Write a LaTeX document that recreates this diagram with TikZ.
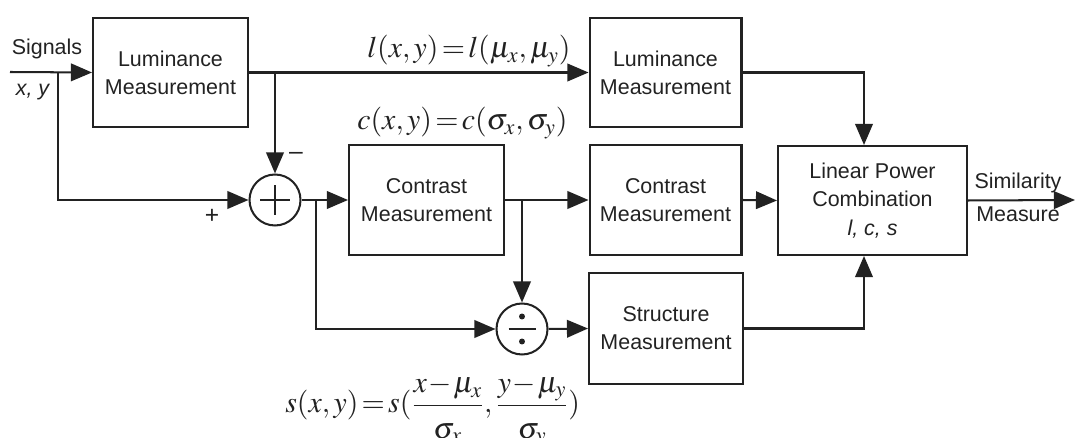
\documentclass[tikz,border=0pt]{standalone}
\usepackage{mathptmx}
\usepackage{fontspec}
\setmainfont{Liberation Sans}
\usetikzlibrary{arrows.meta}
\definecolor{ink}{HTML}{222222}
\newcommand{\tighteq}{\thickmuskip=2mu plus 1mu\medmuskip=1mu}
% display-size fraction with a deeper-set denominator
\newcommand{\bigfrac}[2]{{\displaystyle\frac{#1}{\rule{0pt}{0.95em}#2}}}
\tikzset{
  wire/.style={line width=1.15pt, draw=ink},
  flow/.style={wire, -{Triangle[length=12pt,width=10pt]}},
  blk/.style={draw=ink, line width=1.15pt, align=center, inner sep=0pt,
    text=ink, font=\fontsize{12.2}{16}\selectfont},
  junc/.style={circle, draw=ink, line width=1.15pt, minimum size=1.02cm, inner sep=0pt},
  lbl/.style={text=ink, font=\fontsize{12.2}{16}\selectfont, inner sep=0pt},
  eq/.style={text=ink, font=\fontsize{17}{20}\selectfont, inner sep=0pt, anchor=base west}
}
\begin{document}
\begin{tikzpicture}[x=0.02cm, y=-0.02cm]
  \useasboundingbox (0,0) rectangle (1075,438);

  % blocks
  \node[blk, minimum width=3.1cm, minimum height=2.18cm] (lum1) at (170.5,72.5) {Luminance\\Measurement};
  \node[blk, minimum width=3.04cm, minimum height=2.18cm] (lum2) at (665.5,72.5) {Luminance\\Measurement};
  \node[blk, minimum width=3.1cm, minimum height=2.2cm] (con1) at (426.5,200) {Contrast\\Measurement};
  \node[blk, minimum width=3.04cm, minimum height=2.2cm] (con2) at (665.5,200) {Contrast\\Measurement};
  \node[blk, minimum width=3.08cm, minimum height=2.22cm] (str) at (666,328.5) {Structure\\Measurement};
  \node[blk, minimum width=3.78cm, minimum height=2.18cm] (lpc) at (872.5,200.5)
    {Linear Power\\Combination\\\textit{l, c, s}};

  % summing and dividing junctions
  \node[junc] (sum) at (275,200) {};
  \draw[wire] ([xshift=-0.3cm]sum.center) -- ([xshift=0.3cm]sum.center)
              ([yshift=-0.3cm]sum.center) -- ([yshift=0.3cm]sum.center);
  \node[junc] (div) at (522,329) {};
  \draw[wire] ([xshift=-0.27cm]div.center) -- ([xshift=0.27cm]div.center);
  \fill[ink] ([yshift=0.25cm]div.center) circle (1.7pt)
             ([yshift=-0.25cm]div.center) circle (1.7pt);

  % free ends
  \coordinate (src) at (10,72);
  \coordinate (out) at (1075,200);

  % connectors
  \draw[flow] (src) -- (lum1.west);
  \draw[flow] (src -| 58,0) |- (sum.west);
  \draw[flow] (lum1.east) -- (lum2.west);
  \draw[flow] (lum1.east -| sum) -- (sum.north);
  \draw[flow] (sum.east) -- (con1.west);
  \draw[flow] (sum.east -| 316,0) |- (div.west);
  \draw[flow] (con1.east) -- (con2.west);
  \draw[flow] (con1.east -| div) -- (div.north);
  \draw[flow] (div.east) -- (str.west);
  \draw[flow] (lum2.east) -| ([xshift=-0.17cm]lpc.north);
  \draw[flow] (con2.east) -- (lpc.west);
  \draw[flow] (str.east) -| ([xshift=-0.17cm]lpc.south);
  \draw[flow] (lpc.east) -- (out);

  % labels
  \node[lbl, anchor=base] (sig) at (47,55) {Signals};
  \node[lbl] (xy) at (33,92) {\textit{x, y}};
  \node[lbl, font=\fontsize{14}{16}\selectfont] (minus) at (296,156) {--};
  \node[lbl, font=\fontsize{14}{16}\selectfont] (plus) at (212,216) {+};
  \node[lbl, anchor=base] (sim) at (1018,189) {Similarity};
  \node[lbl, anchor=base] (meas) at (1018,222) {Measure};

  % formulas
  \node[eq] (eql) at (367,58) {$\tighteq l(x,y)=l(\mu_x,\mu_y)$};
  \node[eq] (eqc) at (357,130) {$\tighteq c(x,y)=c(\sigma_x,\sigma_y)$};
  \node[eq] (eqs) at (285,413)
    {$\tighteq s(x,y)=s(\bigfrac{x-\mu_x}{\sigma_x},\bigfrac{y-\mu_y}{\sigma_y})$};
\end{tikzpicture}
\end{document}
